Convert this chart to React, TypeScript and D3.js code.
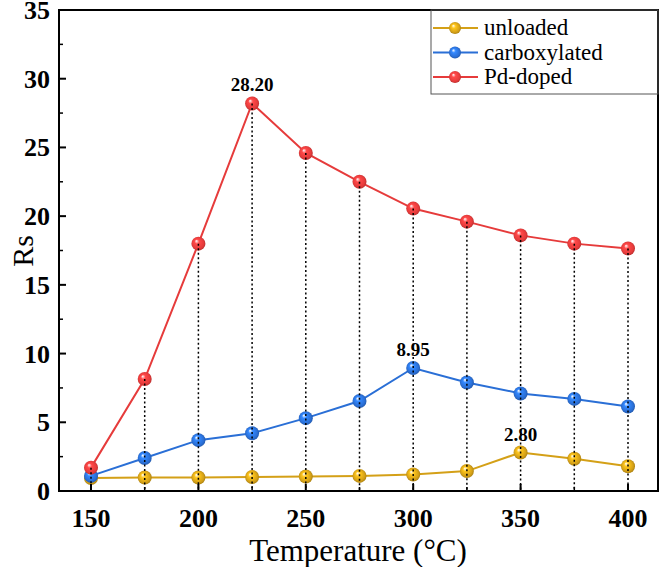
import React from "react";
import * as d3 from "d3";

const temps = [150, 175, 200, 225, 250, 275, 300, 325, 350, 375, 400];
const unloaded = [0.95, 0.98, 0.98, 1.02, 1.05, 1.1, 1.2, 1.45, 2.8, 2.35, 1.8];
const carboxylated = [1.1, 2.4, 3.7, 4.2, 5.3, 6.55, 8.95, 7.9, 7.1, 6.7, 6.15];
const pdDoped = [1.7, 8.15, 18.0, 28.2, 24.6, 22.5, 20.55, 19.6, 18.6, 18.0, 17.65];
const seriesNames = ["unloaded", "carboxylated", "Pd-doped"];
const seriesColors = ["#D4A017", "#2A6FD6", "#E63B3B"];
const xTicks = [150, 200, 250, 300, 350, 400];
const yTicks = [0, 5, 10, 15, 20, 25, 30, 35];
const annotations = [
  { x: 225, y: 28.2, label: "28.20" },
  { x: 300, y: 8.95, label: "8.95" },
  { x: 350, y: 2.8, label: "2.80" },
];

const W = 661, H = 567;
const L = 59, R = 658, T = 10, B = 491;
const FONT = '"Times New Roman", "Liberation Serif", serif';

export default function App() {
  const x = d3.scaleLinear().domain([150, 400]).range([91, 628]);
  const y = d3.scaleLinear().domain([0, 35]).range([B, T]);
  const data = [unloaded, carboxylated, pdDoped];
  const line = d3.line<number>().x((_, i) => x(temps[i])).y((v) => y(v));
  const minorY = d3.range(2.5, 35, 5);
  const minorX = d3.range(175, 400, 50);
  const maxes = temps.map((_, i) => Math.max(unloaded[i], carboxylated[i], pdDoped[i]));
  const ts = { fontFamily: FONT };

  return (
    <svg width={W} height={H} style={{ position: "absolute", left: 0, top: 0, fontFamily: FONT }}>
      <defs>
        {seriesColors.map((c, k) => (
          <radialGradient key={k} id={`g${k}`} cx="50%" cy="50%" r="55%" fx="35%" fy="30%">
            <stop offset="0%" stopColor="#ffffff" />
            <stop offset="30%" stopColor={d3.color(c)!.brighter(0.6).formatHex()} />
            <stop offset="75%" stopColor={c} />
            <stop offset="100%" stopColor={d3.color(c)!.darker(0.8).formatHex()} />
          </radialGradient>
        ))}
      </defs>
      <rect x={0} y={0} width={W} height={H} fill="#fff" />
      {data.map((s, k) => (
        <path key={k} d={line(s) || ""} fill="none" stroke={seriesColors[k]} strokeWidth={2} />
      ))}
      {data.map((s, k) =>
        s.map((v, i) => (
          <circle key={`${k}-${i}`} cx={x(temps[i])} cy={y(v)} r={7} fill={`url(#g${k})`} />
        ))
      )}
      {temps.map((t, i) => (
        <line key={t} x1={x(t)} x2={x(t)} y1={y(maxes[i])} y2={B} stroke="#000" strokeWidth={1.5} strokeDasharray="2,2.5" />
      ))}
      {annotations.map((a) => (
        <text key={a.label} style={ts} x={x(a.x)} y={y(a.y) - 12} textAnchor="middle" fontWeight="bold" fontSize={19}>
          {a.label}
        </text>
      ))}
      <rect x={L} y={T} width={R - L} height={B - T} fill="none" stroke="#000" strokeWidth={2} />
      {yTicks.map((v) => (
        <g key={v}>
          <line x1={L} x2={L + 7} y1={y(v)} y2={y(v)} stroke="#000" strokeWidth={2} />
          <text style={ts} x={50} y={y(v) + 9} textAnchor="end" fontWeight="bold" fontSize={26}>{v}</text>
        </g>
      ))}
      {minorY.map((v) => (
        <line key={v} x1={L} x2={L + 4} y1={y(v)} y2={y(v)} stroke="#000" strokeWidth={1.5} />
      ))}
      {xTicks.map((v) => (
        <g key={v}>
          <line x1={x(v)} x2={x(v)} y1={B} y2={B - 7} stroke="#000" strokeWidth={2} />
          <text style={ts} x={x(v)} y={527} textAnchor="middle" fontWeight="bold" fontSize={26}>{v}</text>
        </g>
      ))}
      {minorX.map((v) => (
        <line key={v} x1={x(v)} x2={x(v)} y1={B} y2={B - 4} stroke="#000" strokeWidth={1.5} />
      ))}
      <text style={ts} x={358} y={561} textAnchor="middle" fontSize={31}>Temperature (°C)</text>
      <text style={ts} transform="translate(33,251) rotate(-90)" textAnchor="middle" fontSize={30}>Rs</text>
      <rect x={431} y={T} width={R - 431} height={84} fill="none" stroke="#555" strokeWidth={1} />
      {seriesNames.map((n, k) => {
        const ly = 28 + k * 24.5;
        return (
          <g key={n}>
            <line x1={433} x2={478} y1={ly} y2={ly} stroke={seriesColors[k]} strokeWidth={2} />
            <circle cx={455} cy={ly} r={6} fill={`url(#g${k})`} />
            <text style={ts} x={484} y={ly + 7} fontSize={23}>{n}</text>
          </g>
        );
      })}
    </svg>
  );
}
